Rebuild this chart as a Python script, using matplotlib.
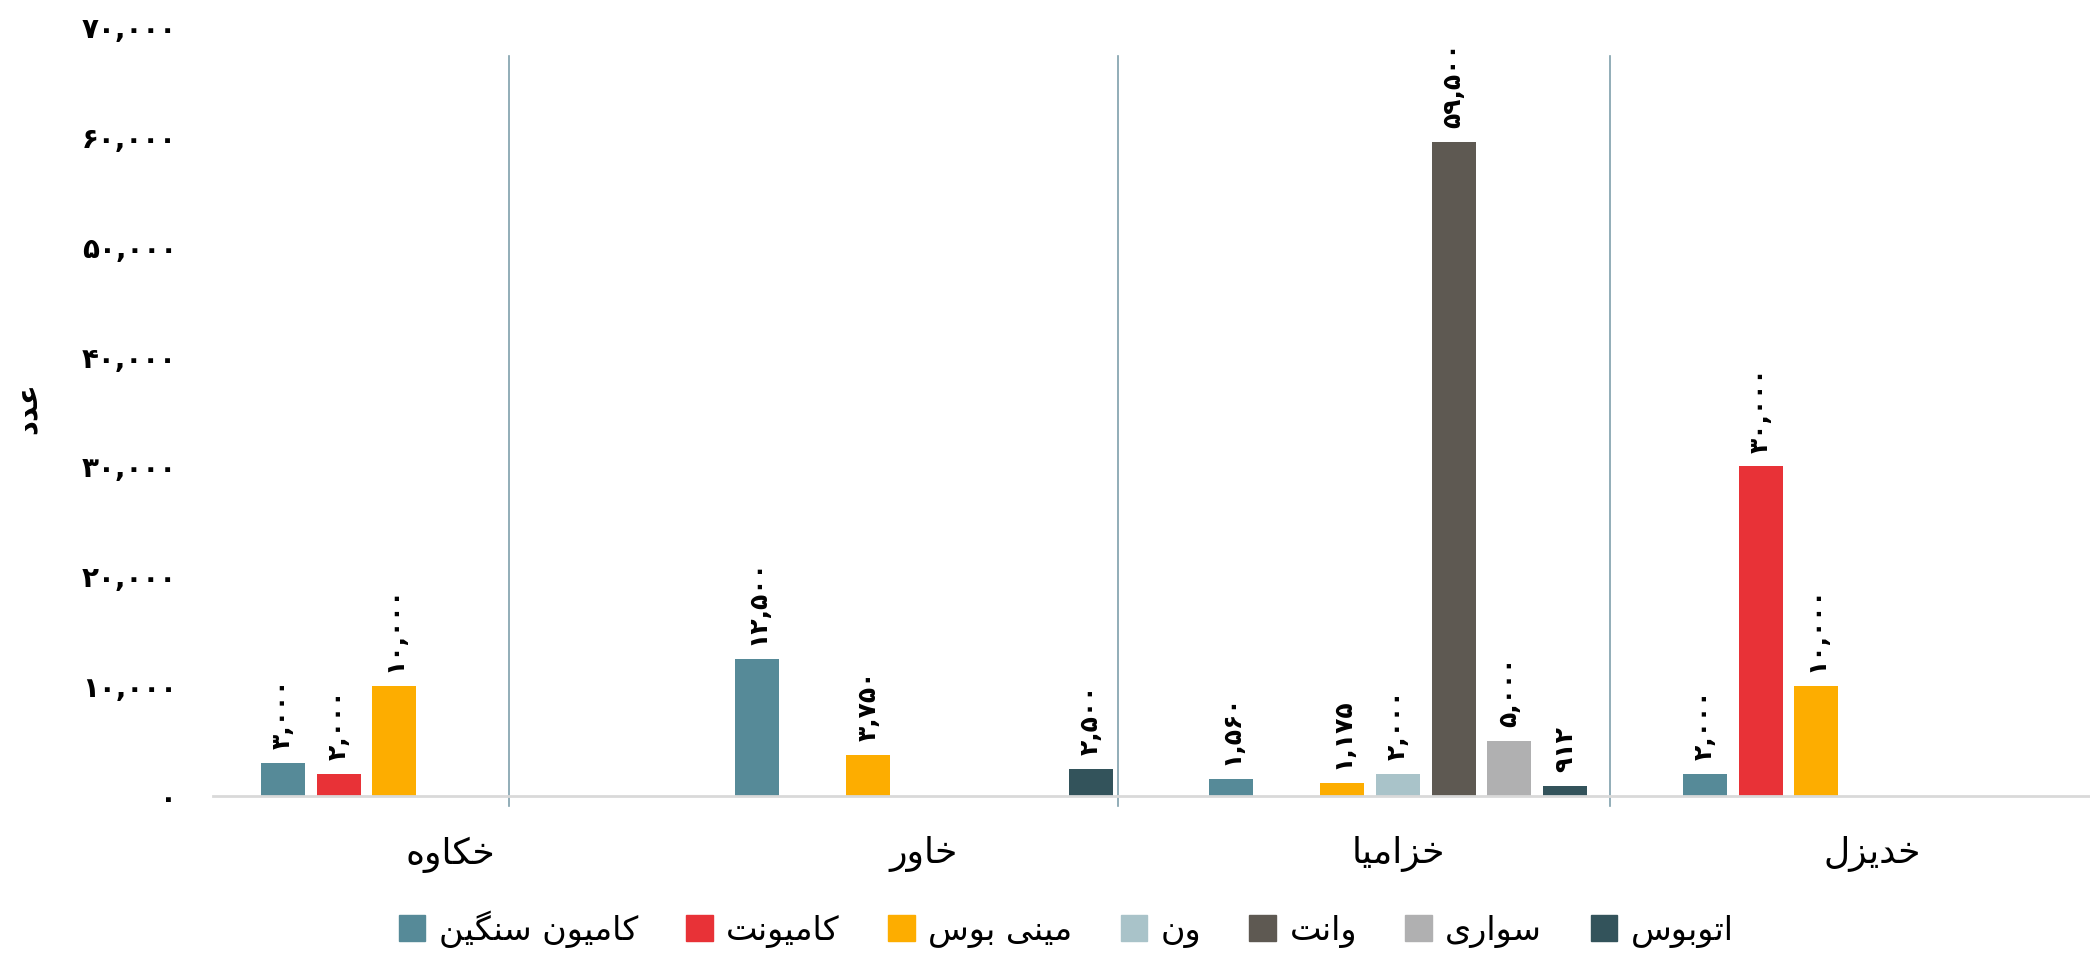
import numpy as np
import matplotlib
matplotlib.use('Agg')
import matplotlib.pyplot as plt
from matplotlib.patches import Patch

plt.rcParams['font.family'] = ['DejaVu Sans']

# data
regions = ['خکاوه', 'خاور', 'خزامیا', 'خدیزل']
series = ['کامیون سنگین', 'کامیونت', 'مینی بوس', 'ون', 'وانت', 'سواری', 'اتوبوس']
heavy_truck = [3000, 12500, 1560, 2000]
light_truck = [2000, np.nan, np.nan, 30000]
minibus = [10000, 3750, 1175, 10000]
van = [np.nan, np.nan, 2000, np.nan]
pickup = [np.nan, np.nan, 59500, np.nan]
car = [np.nan, np.nan, 5000, np.nan]
bus = [np.nan, 2500, 912, np.nan]
colors = ['#568A98', '#E83237', '#FDAD00', '#A9C3C9', '#5E5952', '#B0B0B1', '#33535B']
yticks = [0, 10000, 20000, 30000, 40000, 50000, 60000, 70000]
y_title = 'عدد'
# hand drawn separators in the original (category units)
separators = [0.125, 1.41, 2.447]

values = [heavy_truck, light_truck, minibus, van, pickup, car, bus]

# --- minimal persian shaping (matplotlib has no bidi / shaping) ---
FORMS = {  # isolated, final, initial, medial
    'ا': ('\uFE8D', '\uFE8E', None, None),
    'ب': ('\uFE8F', '\uFE90', '\uFE91', '\uFE92'),
    'ت': ('\uFE95', '\uFE96', '\uFE97', '\uFE98'),
    'خ': ('\uFEA5', '\uFEA6', '\uFEA7', '\uFEA8'),
    'د': ('\uFEA9', '\uFEAA', None, None),
    'ر': ('\uFEAD', '\uFEAE', None, None),
    'ز': ('\uFEAF', '\uFEB0', None, None),
    'س': ('\uFEB1', '\uFEB2', '\uFEB3', '\uFEB4'),
    'ع': ('\uFEC9', '\uFECA', '\uFECB', '\uFECC'),
    'ل': ('\uFEDD', '\uFEDE', '\uFEDF', '\uFEE0'),
    'م': ('\uFEE1', '\uFEE2', '\uFEE3', '\uFEE4'),
    'ن': ('\uFEE5', '\uFEE6', '\uFEE7', '\uFEE8'),
    'ه': ('\uFEE9', '\uFEEA', '\uFEEB', '\uFEEC'),
    'و': ('\uFEED', '\uFEEE', None, None),
    'ک': ('\uFB8E', '\uFB8F', '\uFB90', '\uFB91'),
    'گ': ('\uFB92', '\uFB93', '\uFB94', '\uFB95'),
    'ی': ('\uFBFC', '\uFBFD', '\uFBFE', '\uFBFF'),
}


def fa(text):
    out = []
    for i, ch in enumerate(text):
        if ch not in FORMS:
            out.append(ch)
            continue
        prev = text[i - 1] if i > 0 else ''
        nxt = text[i + 1] if i + 1 < len(text) else ''
        join_prev = prev in FORMS and FORMS[prev][2] is not None
        join_next = FORMS[ch][2] is not None and nxt in FORMS
        iso, fin, ini, med = FORMS[ch]
        if join_prev and join_next:
            out.append(med)
        elif join_prev:
            out.append(fin)
        elif join_next:
            out.append(ini)
        else:
            out.append(iso)
    return ''.join(out)[::-1]


def fa_num(v):
    s = '{:,.0f}'.format(v)
    return s.translate(str.maketrans('0123456789', '۰۱۲۳۴۵۶۷۸۹'))


fig = plt.figure(figsize=(20.9, 9.55), dpi=100)
ax = fig.add_axes([213 / 2090, 159 / 955, 1896 / 2090, 769 / 955])

x = np.arange(len(regions))
slot = 0.1173
width = 0.0928
for k, (name, vals) in enumerate(zip(series, values)):
    pos = x + (k - 3) * slot
    bars = ax.bar(pos, vals, width, color=colors[k])
    labels = ['' if np.isnan(v) else fa_num(v) for v in vals]
    ax.bar_label(bars, labels=labels, rotation=90, padding=10,
                 fontsize=18, fontweight='bold')

for s in separators:
    ax.axvline(s, ymin=-0.013, ymax=0.962, color='#7F9FAB', lw=1.2,
               clip_on=False)

ax.set_xlim(-0.5, 3.5)
ax.set_ylim(0, 70000)
ax.set_yticks(yticks)
ax.set_yticklabels([fa_num(v) for v in yticks], fontsize=20, fontweight='bold')
ax.set_xticks(x)
ax.set_xticklabels([fa(r) for r in regions], fontsize=26)
ax.tick_params(axis='both', length=0)
ax.tick_params(axis='y', pad=26)
ax.tick_params(axis='x', pad=29)
for side in ['top', 'right', 'left']:
    ax.spines[side].set_visible(False)
ax.spines['bottom'].set_color('#D9D9D9')
ax.spines['bottom'].set_linewidth(2)

fig.text(27 / 2090, 1 - 408 / 955, fa(y_title), rotation=90, fontsize=21,
         fontweight='bold', ha='center', va='center')

handles = [Patch(color=c) for c in colors]
fig.legend(handles, [fa(s) for s in series], loc='center',
           bbox_to_anchor=(1066 / 2090, 1 - 929 / 955), ncol=7, frameon=False,
           fontsize=24, handlelength=0.8, handleheight=0.8, handletextpad=0.4,
           columnspacing=1.45)

fig.savefig('out.png', dpi=100)
